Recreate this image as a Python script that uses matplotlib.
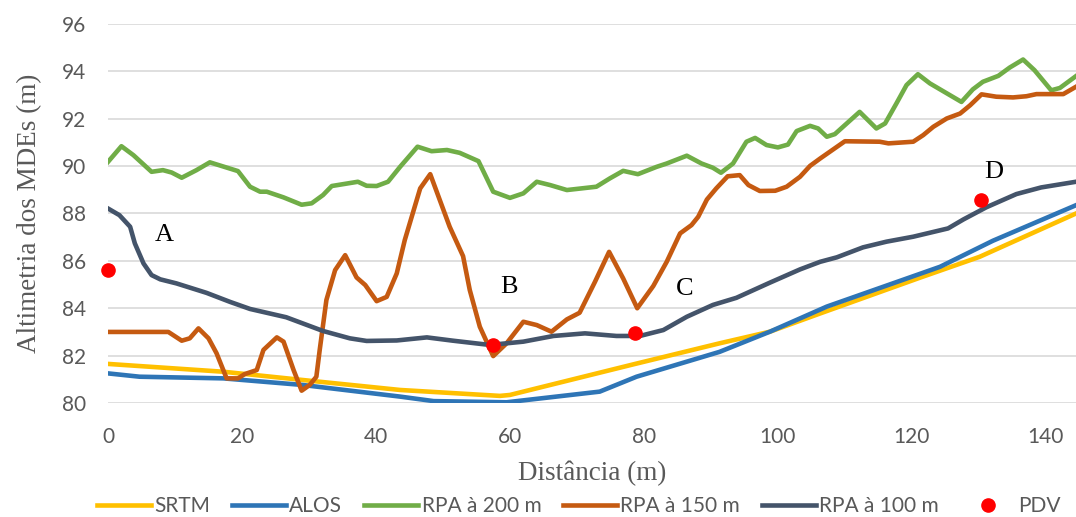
import matplotlib
matplotlib.use("Agg")
import matplotlib.pyplot as plt

# distance (m) / altimetry (m)
srtm_x = [0, 17.2, 29.1, 43.6, 58.5, 60.0, 78.4, 91.3, 98.8, 106.3, 113.7, 121.2, 130.1, 144.5]
srtm_y = [81.65, 81.32, 80.97, 80.55, 80.30, 80.34, 81.63, 82.52, 83.01, 83.78, 84.53, 85.29, 86.17, 88.00]

alos_x = [0, 4.7, 17.2, 29.1, 43.6, 48.6, 59.5, 73.4, 78.9, 91.3, 98.8, 107.3, 124.2, 132.1, 144.5]
alos_y = [81.25, 81.11, 81.04, 80.76, 80.27, 80.08, 80.03, 80.48, 81.11, 82.16, 83.01, 84.07, 85.75, 86.85, 88.35]

rpa200_x = [0, 2.0, 3.8, 6.5, 8.2, 9.5, 11.0, 13.2, 15.2, 19.4, 21.2, 22.7, 23.7, 26.2, 28.9,
            30.4, 32.1, 33.4, 37.3, 38.6, 40.1, 41.8, 43.6, 46.2, 48.3, 50.6, 52.5, 55.3, 57.5,
            60.0, 62.0, 64.0, 66.0, 68.5, 72.9, 74.9, 76.9, 79.1, 81.9, 83.4, 86.4, 88.6, 90.3,
            91.5, 93.3, 95.3, 96.6, 98.3, 100.0, 101.5, 102.8, 104.8, 106.0, 107.3, 108.5, 112.2,
            114.7, 116.0, 117.7, 119.2, 120.9, 122.7, 127.4, 129.1, 130.6, 132.9, 134.6, 136.6,
            138.3, 140.8, 142.1, 144.5]
rpa200_y = [90.18, 90.84, 90.46, 89.76, 89.83, 89.73, 89.51, 89.83, 90.16, 89.79, 89.13, 88.92,
            88.92, 88.68, 88.37, 88.43, 88.78, 89.16, 89.34, 89.17, 89.16, 89.34, 89.97, 90.82,
            90.63, 90.68, 90.56, 90.21, 88.92, 88.66, 88.85, 89.34, 89.20, 88.99, 89.13, 89.48,
            89.80, 89.66, 89.97, 90.11, 90.44, 90.11, 89.93, 89.72, 90.11, 91.03, 91.19, 90.89,
            90.79, 90.91, 91.48, 91.70, 91.59, 91.24, 91.35, 92.29, 91.59, 91.80, 92.65, 93.42,
            93.88, 93.49, 92.71, 93.24, 93.56, 93.81, 94.16, 94.50, 94.05, 93.20, 93.30, 93.80]

rpa150_x = [0, 9.0, 11.0, 12.2, 13.5, 15.0, 16.2, 17.7, 19.4, 20.4, 22.2, 23.2, 25.2, 26.2, 27.7,
            28.9, 30.1, 31.1, 31.6, 32.6, 33.9, 35.4, 37.1, 38.4, 40.1, 41.6, 43.1, 44.3, 46.6,
            48.1, 51.0, 53.0, 54.0, 55.5, 57.5, 59.5, 62.0, 64.0, 66.2, 68.5, 70.4, 72.7, 74.8,
            76.9, 79.0, 81.4, 83.4, 85.4, 87.1, 88.1, 89.4, 90.8, 92.5, 94.3, 95.6, 97.3, 99.6,
            101.3, 103.3, 104.8, 106.3, 110.0, 115.2, 116.5, 120.2, 121.7, 123.2, 125.2, 127.2,
            128.7, 130.4, 132.6, 135.1, 137.1, 138.6, 142.6, 144.5]
rpa150_y = [83.00, 83.00, 82.63, 82.73, 83.15, 82.73, 82.10, 81.04, 81.04, 81.22, 81.39, 82.24,
            82.77, 82.59, 81.39, 80.52, 80.76, 81.11, 82.24, 84.35, 85.61, 86.24, 85.30, 84.98,
            84.30, 84.48, 85.47, 86.88, 89.06, 89.66, 87.44, 86.20, 84.77, 83.22, 81.98, 82.52,
            83.43, 83.29, 83.01, 83.53, 83.81, 85.12, 86.38, 85.26, 84.00, 84.94, 85.96, 87.16,
            87.51, 87.86, 88.59, 89.06, 89.57, 89.62, 89.20, 88.95, 88.96, 89.13, 89.55, 90.01,
            90.32, 91.05, 91.03, 90.96, 91.03, 91.31, 91.66, 92.01, 92.22, 92.57, 93.03, 92.93,
            92.90, 92.95, 93.04, 93.04, 93.35]

rpa100_x = [0, 1.7, 3.3, 4.0, 5.3, 6.5, 7.8, 10.2, 14.7, 18.2, 21.2, 26.6, 32.1, 36.1, 38.6,
            43.1, 47.6, 51.5, 57.0, 62.0, 66.5, 71.2, 75.9, 79.4, 82.9, 86.4, 90.3, 93.8, 98.8,
            103.3, 106.3, 108.8, 112.7, 116.2, 120.2, 125.4, 127.7, 131.1, 135.6, 139.3, 144.5]
rpa100_y = [88.21, 87.93, 87.44, 86.74, 85.89, 85.40, 85.22, 85.05, 84.65, 84.27, 83.97, 83.62,
            83.04, 82.73, 82.62, 82.64, 82.77, 82.63, 82.45, 82.59, 82.83, 82.94, 82.83, 82.83,
            83.08, 83.64, 84.14, 84.44, 85.08, 85.64, 85.96, 86.15, 86.57, 86.81, 87.02, 87.37,
            87.75, 88.26, 88.82, 89.10, 89.34]

pdv_x = [0, 57.4, 78.7, 130.3]
pdv_y = [85.61, 82.45, 82.97, 88.57]

point_labels = ["A", "B", "C", "D"]
label_x = [8.4, 59.8, 86.1, 132.2]
label_y = [87.1, 84.9, 84.8, 89.75]

serif = ["Liberation Serif", "DejaVu Serif"]
sans = ["Lato", "DejaVu Sans"]
grey = "#595959"

fig = plt.figure(figsize=(10.76, 5.17), dpi=100)
ax = fig.add_axes([0.1004, 0.2205, 0.8996, 0.7331])

lw = 3.3
ax.plot(srtm_x, srtm_y, color="#FFC000", lw=lw, label="SRTM", solid_joinstyle="round")
ax.plot(alos_x, alos_y, color="#2E75B6", lw=lw, label="ALOS", solid_joinstyle="round")
ax.plot(rpa200_x, rpa200_y, color="#70AD47", lw=lw, label="RPA à 200 m", solid_joinstyle="round")
ax.plot(rpa150_x, rpa150_y, color="#C55A11", lw=lw, label="RPA à 150 m", solid_joinstyle="round")
ax.plot(rpa100_x, rpa100_y, color="#44546A", lw=lw, label="RPA à 100 m", solid_joinstyle="round")
ax.plot(pdv_x, pdv_y, "o", color="#FF0000", ms=9.5, label="PDV", clip_on=False, zorder=5)

for t, x, y in zip(point_labels, label_x, label_y):
    ax.text(x, y, t, family=serif, fontsize=19, ha="center", va="center", color="black")

ax.set_xlim(0, 144.5)
ax.set_ylim(80, 96)
ax.set_yticks(range(80, 97, 2))
ax.set_xticks(range(0, 141, 20))
ax.grid(axis="y", color="#D9D9D9", lw=1.2)
ax.set_axisbelow(True)
for s in ax.spines.values():
    s.set_visible(False)
ax.tick_params(length=0, labelsize=15, colors=grey)
ax.tick_params(axis="y", pad=16)
ax.tick_params(axis="x", pad=17)
for lab in ax.get_xticklabels() + ax.get_yticklabels():
    lab.set_family(sans)

ax.set_xlabel("Distância (m)", family=serif, fontsize=19.5, color=grey, labelpad=10)
ax.set_ylabel("Altimetria dos MDEs (m)", family=serif, fontsize=19.5, color=grey, labelpad=14)

fig.legend(loc="lower center", ncol=6, bbox_to_anchor=(0.538, -0.035), frameon=False,
           prop={"family": sans, "size": 15}, labelcolor=grey, handlelength=2.6,
           handletextpad=0.15, columnspacing=1.05)

fig.savefig("out.png", dpi=100)
